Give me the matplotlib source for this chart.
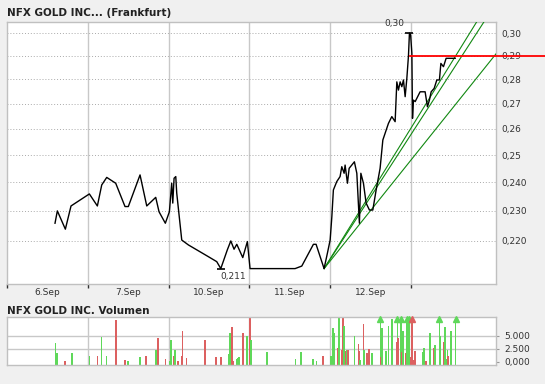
import matplotlib
matplotlib.use("Agg")
import matplotlib.pyplot as plt
import numpy as np
from matplotlib.ticker import FixedLocator, NullFormatter, NullLocator

# ---------------- data ----------------
# x = trading-day position (0..1 = 6.Sep, 1..2 = 7.Sep, 2..3 = 10.Sep, 3..4 = 11.Sep, 4..5 = 12.Sep, 5..6 = 13.Sep)
day_labels = ["6.Sep", "7.Sep", "10.Sep", "11.Sep", "12.Sep"]

price_t = [0.594, 0.623, 0.722, 0.792, 1.019, 1.118, 1.172, 1.234, 1.345, 1.460, 1.501,
           1.646, 1.729, 1.840, 1.881, 1.959, 2.009, 2.038, 2.051, 2.067, 2.088, 2.100,
           2.162, 2.244, 2.491, 2.595, 2.645, 2.726, 2.769, 2.809, 2.843, 2.917, 2.974,
           3.007, 3.564, 3.647, 3.791, 3.824, 3.923, 3.964, 3.998, 4.019, 4.038, 4.080,
           4.121, 4.142, 4.171, 4.183, 4.212, 4.233, 4.298, 4.328, 4.360, 4.378, 4.410,
           4.443, 4.484, 4.526, 4.567, 4.616, 4.650, 4.719, 4.761, 4.802, 4.823, 4.843,
           4.864, 4.885, 4.905, 4.926, 4.947, 4.967, 4.979, 4.994, 5.009, 5.017, 5.028,
           5.050, 5.111, 5.173, 5.202, 5.226, 5.248, 5.285, 5.318, 5.350, 5.368, 5.400,
           5.433, 5.545]
price_v = [0.2258, 0.2300, 0.2238, 0.2317, 0.2359, 0.2317, 0.2391, 0.2418, 0.2397, 0.2315, 0.2315,
           0.2427, 0.2317, 0.2347, 0.2297, 0.2258, 0.2297, 0.2397, 0.2327, 0.2415, 0.2421, 0.2362,
           0.2202, 0.2186, 0.2148, 0.2132, 0.2110, 0.2170, 0.2199, 0.2172, 0.2188, 0.2145, 0.2197,
           0.2110, 0.2110, 0.2118, 0.2188, 0.2188, 0.2110, 0.2159, 0.2202, 0.2280, 0.2373, 0.2403,
           0.2421, 0.2457, 0.2433, 0.2463, 0.2397, 0.2451, 0.2475, 0.2433, 0.2258, 0.2433, 0.2397,
           0.2327, 0.2303, 0.2303, 0.2373, 0.2451, 0.2557, 0.2621, 0.2648, 0.2628, 0.2789, 0.2755,
           0.2789, 0.2769, 0.2797, 0.2728, 0.2804, 0.2900, 0.3000, 0.2990, 0.2911, 0.2641, 0.2714,
           0.2708, 0.2748, 0.2748, 0.2687, 0.2714, 0.2748, 0.2762, 0.2797, 0.2797, 0.2867, 0.2853,
           0.2889, 0.2889]

high_t, high_v, high_label = 4.979, 0.300, "0,30"
low_t, low_v, low_label = 2.645, 0.211, "0,211"
last_price = 0.29
last_price_from = 4.98

# trend lines: start point and a second point
trend_start = (3.923, 0.211)
trend_ends = [(5.81, 0.305), (5.90, 0.305), (6.07, 0.2917)]

price_ticks = [0.22, 0.23, 0.24, 0.25, 0.26, 0.27, 0.28, 0.29, 0.30]
price_tick_labels = ["0,220", "0,230", "0,240", "0,25", "0,26", "0,27", "0,28", "0,29", "0,30"]

vol_t = [0.60, 0.62, 0.72, 0.80, 1.02, 1.12, 1.17, 1.23, 1.35, 1.46, 1.50, 1.65, 1.72, 1.84, 1.87,
         1.96, 2.02, 2.03, 2.06, 2.08, 2.12, 2.16, 2.17, 2.22, 2.45, 2.59, 2.65, 2.74, 2.76, 2.78,
         2.80, 2.84, 2.86, 2.87, 2.92, 2.97, 3.01, 3.02, 3.22, 3.57, 3.64, 3.79, 3.83, 3.91, 4.01,
         4.03, 4.05, 4.10, 4.11, 4.14, 4.16, 4.17, 4.19, 4.21, 4.22, 4.30, 4.35, 4.36, 4.37, 4.41,
         4.42, 4.45, 4.48, 4.52, 4.62, 4.63, 4.64, 4.69, 4.72, 4.76, 4.82, 4.83, 4.84, 4.87, 4.89,
         4.90, 4.93, 4.95, 4.96, 4.97, 5.00, 5.01, 5.03, 5.05, 5.14, 5.16, 5.18, 5.19, 5.23, 5.24,
         5.28, 5.30, 5.35, 5.36, 5.41, 5.42, 5.44, 5.45, 5.46, 5.49, 5.50, 5.55]
vol_v = [3700, 1750, 200, 1750, 1170, 1170, 4860, 1170, 7980, 390, 200, 970, 1170, 2330, 4670,
         580, 100, 4280, 1170, 2330, 100, 1170, 5840, 780, 4280, 970, 970, 1560, 5450, 6610,
         100, 580, 780, 970, 5450, 5060, 8370, 4280, 1950, 580, 1950, 580, 200, 1170, 1170,
         6420, 5450, 2720, 8370, 2330, 8370, 6810, 2140, 2330, 2330, 5060, 3500, 2140, 390, 7200,
         2330, 1750, 2530, 1750, 12000, 970, 6420, 2140, 6810, 8170, 3890, 12000, 4670, 12000, 1950,
         5840, 1750, 12000, 5840, 12000, 970, 12000, 390, 2140, 1950, 2720, 200, 200, 5450, 5450,
         2720, 3300, 12000, 5060, 3890, 6610, 580, 2330, 1170, 5840, 1360, 12000]
vol_dir = ["g", "g", "r", "g", "g", "r", "g", "g", "r", "r", "g", "g", "r", "g", "r",
           "r", "g", "g", "r", "g", "r", "r", "r", "r", "r", "r", "r", "g", "g", "r",
           "r", "g", "g", "g", "r", "g", "r", "g", "g", "g", "g", "g", "g", "r", "g",
           "g", "g", "r", "g", "r", "r", "g", "r", "g", "r", "g", "r", "r", "g", "r",
           "g", "r", "r", "g", "g", "r", "g", "g", "g", "g", "r", "g", "r", "g", "r",
           "g", "r", "g", "g", "g", "r", "r", "r", "r", "g", "g", "r", "r", "g", "g",
           "r", "g", "g", "g", "r", "g", "g", "g", "r", "g", "g", "g"]

vol_ticks = [0, 2500, 5000]
vol_tick_labels = ["0,000", "2.500", "5.000"]

# ---------------- style ----------------
W, H = 545, 384
fig = plt.figure(figsize=(W / 100, H / 100), dpi=100)
fig.patch.set_facecolor("#f0f0f0")

grid_c = "#c8c8c8"
txt_c = "#333333"
green_bar = "#5fd85a"
red_bar = "#dc6060"

x_min, x_max = 0.0, 6.05
bounds = [0, 1, 2, 3, 4, 5]

def px_axes(l, t, r, b):
    return [l / W, 1 - b / H, (r - l) / W, (b - t) / H]

# ---------------- price axes ----------------
ax = fig.add_axes(px_axes(7, 22, 496, 284))
ax.set_facecolor("white")
ax.set_yscale("log")
ax.set_xlim(x_min, x_max)
ax.set_ylim(0.2062, 0.305)

for s in ax.spines.values():
    s.set_color("#c0c0c0")
    s.set_linewidth(1)

ax.yaxis.set_major_locator(FixedLocator(price_ticks))
ax.yaxis.set_minor_locator(NullLocator())
ax.set_yticklabels(price_tick_labels)
ax.yaxis.tick_right()
ax.tick_params(axis="y", which="major", length=0, pad=4, labelsize=6.5, labelcolor=txt_c)
ax.grid(axis="y", which="major", color="#aaaaaa", linestyle=(0, (1, 2)), linewidth=0.7)

ax.xaxis.set_major_locator(FixedLocator(bounds))
ax.xaxis.set_major_formatter(NullFormatter())
ax.xaxis.set_minor_locator(FixedLocator([b + 0.5 for b in bounds[:len(day_labels)]]))
ax.set_xticklabels(day_labels, minor=True)
ax.tick_params(axis="x", which="major", direction="out", length=3, width=1, color="#333333")
ax.tick_params(axis="x", which="minor", length=0, pad=3, labelsize=6.5, labelcolor=txt_c)
for b in bounds[1:]:
    ax.axvline(b, color=grid_c, lw=1, zorder=0.5)

ax.plot(price_t, price_v, color="black", lw=1, zorder=3)

for (te, ve) in trend_ends:
    ax.plot([trend_start[0], te], [trend_start[1], ve], color="#118811", lw=0.8, zorder=2.8)

ax.plot([last_price_from, 6.66], [last_price, last_price], color="red", lw=1.3,
        zorder=4, clip_on=False)

ax.plot([high_t], [high_v], marker="_", color="black", ms=6, mew=1.2, zorder=3)
ax.plot([low_t], [low_v], marker="_", color="black", ms=6, mew=1.2, zorder=3)
ax.annotate(high_label, (high_t, high_v), xytext=(-4, 4), textcoords="offset points",
            ha="right", va="bottom", fontsize=6.5, color=txt_c)
ax.annotate(low_label, (low_t, low_v), xytext=(0, -2.5), textcoords="offset points",
            ha="left", va="top", fontsize=6.5, color=txt_c)

fig.text(7 / W, 1 - 13 / H, "NFX GOLD INC... (Frankfurt)", fontsize=7.5, fontweight="bold",
         color="#222222", va="center", ha="left")

# ---------------- volume axes ----------------
vmin, vmax = -580, 8600
av = fig.add_axes(px_axes(7, 317, 496, 365))
av.set_facecolor("white")
av.set_xlim(x_min, x_max)
av.set_ylim(vmin, vmax)
for s in av.spines.values():
    s.set_color("#c0c0c0")
    s.set_linewidth(1)
av.xaxis.set_major_locator(NullLocator())
av.yaxis.set_major_locator(FixedLocator(vol_ticks))
av.set_yticklabels(vol_tick_labels)
av.yaxis.tick_right()
av.tick_params(axis="y", direction="out", length=2, pad=4, labelsize=6.5, labelcolor=txt_c,
               color="#999999")
for yv in vol_ticks[1:]:
    av.axhline(yv, color=grid_c, lw=1, zorder=0.5)
for b in bounds[1:]:
    av.axvline(b, color=grid_c, lw=1, zorder=0.5)

cols = [green_bar if c == "g" else red_bar for c in vol_dir]
heights = [min(v, vmax) - vmin for v in vol_v]
av.bar(vol_t, heights, bottom=vmin, width=0.022, color=cols, zorder=2, linewidth=0,
       antialiased=False)
for t, v, c in zip(vol_t, vol_v, cols):
    if v > vmax:
        av.plot([t], [vmax - 350], marker="^", color=c, ms=4, zorder=3, clip_on=False)

fig.text(7 / W, 1 - 311 / H, "NFX GOLD INC. Volumen", fontsize=7.5, fontweight="bold",
         color="#222222", va="center", ha="left")

fig.savefig("out.png", dpi=100, facecolor=fig.get_facecolor())
